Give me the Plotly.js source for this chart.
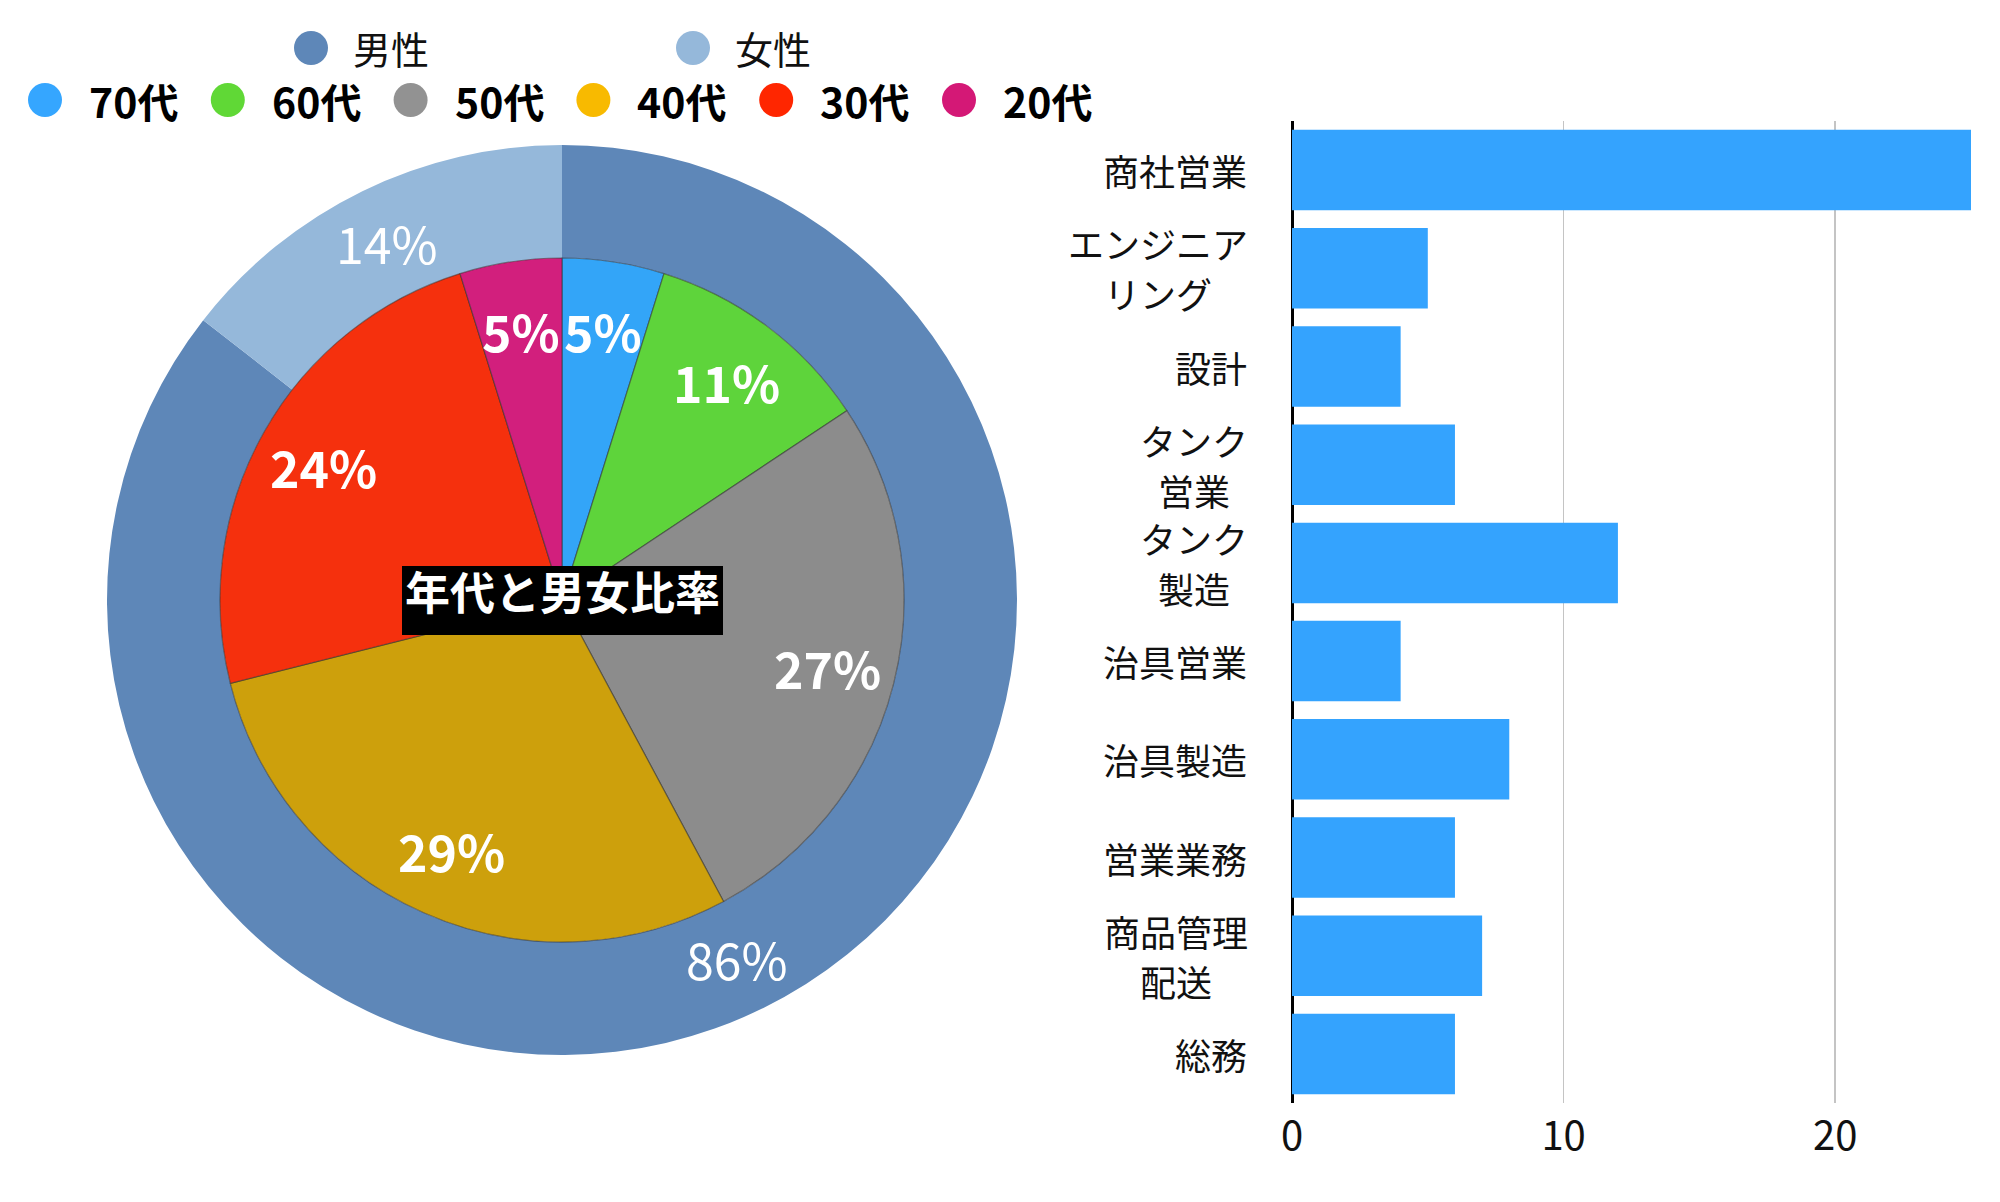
<!DOCTYPE html>
<html><head><meta charset="utf-8">
<script src="https://cdn.plot.ly/plotly-3.0.1.min.js"></script>
<style>html,body{margin:0;padding:0;background:#fff}#chart{width:2000px;height:1202px}</style>
</head><body><div id="chart"></div>
<script>
// ---- data ----
const genderLabels = ['男性', '女性'];
const genderCounts = [71, 12];
const ageLabels = ['70代', '60代', '50代', '40代', '30代', '20代'];
const ageCounts = [4, 9, 22, 24, 20, 4];
const jobLabels = ['商社営業', 'エンジニア<br>リング', '設計', 'タンク<br>営業', 'タンク<br>製造', '治具営業', '治具製造', '営業業務', '商品管理<br>配送', '総務'];
const jobCounts = [25, 5, 4, 6, 12, 4, 8, 6, 7, 6];
const xTickVals = [0, 10, 20];
const chartTitle = '年代と男女比率';

// ---- styles ----
const W = 2000, H = 1202;
const FONT = '"Noto Sans CJK JP", "Noto Sans", sans-serif';
const genderColors = ['#5E87B8', '#95B8DA'];
const ageColors = ['#33A5F8', '#5ED43B', '#8C8C8C', '#CDA00C', '#F5300D', '#D21F7D'];
const ageLegendColors = ['#35A6FF', '#60D836', '#929292', '#F8BA00', '#FF2600', '#D41876'];
const barColor = '#34A3FE';
const px = x => x / W;
const py = y => 1 - y / H;

const cx = 562, cy = 600, rOuter = 455, rInner = 342;

const outerPie = {
  type: 'pie', labels: genderLabels, values: genderCounts,
  hole: rInner / rOuter, sort: false, direction: 'clockwise', rotation: 0,
  domain: {x: [px(cx - rOuter), px(cx + rOuter)], y: [py(cy + rOuter), py(cy - rOuter)]},
  marker: {colors: genderColors, line: {width: 0}},
  textinfo: 'none', showlegend: false, hoverinfo: 'label+percent'
};
const innerPie = {
  type: 'pie', labels: ageLabels, values: ageCounts,
  sort: false, direction: 'clockwise', rotation: 0,
  domain: {x: [px(cx - rInner), px(cx + rInner)], y: [py(cy + rInner), py(cy - rInner)]},
  marker: {colors: ageColors, line: {width: 1.2, color: 'rgba(50,50,50,0.55)'}},
  textinfo: 'none', showlegend: false, hoverinfo: 'label+percent'
};
const bars = {
  type: 'bar', orientation: 'h', x: jobCounts, y: jobLabels,
  marker: {color: barColor, line: {width: 0}},
  xaxis: 'x', yaxis: 'y', showlegend: false, hoverinfo: 'x+y'
};

const annotations = [];
const shapes = [];

// percent labels placed at each slice's mid-angle (clockwise from 12 o'clock)
function sliceLabels(values, rLabel, bold) {
  const total = values.reduce((a, b) => a + b, 0);
  let cum = 0;
  values.forEach(v => {
    const th = 2 * Math.PI * (cum + v / 2) / total;
    cum += v;
    const pct = Math.round(v / total * 100) + '%';
    annotations.push({
      xref: 'paper', yref: 'paper', x: px(cx + rLabel * Math.sin(th)), y: py(cy - rLabel * Math.cos(th)),
      xanchor: 'center', yanchor: 'middle', showarrow: false,
      text: bold ? '<b>' + pct + '</b>' : pct,
      font: {size: 50, color: '#ffffff', family: FONT}
    });
  });
}
sliceLabels(genderCounts, (rInner + rOuter) / 2, false);
sliceLabels(ageCounts, rInner * 0.8, true);

// title: black box with white bold text near its top
shapes.push({type: 'rect', xref: 'paper', yref: 'paper', x0: px(402), x1: px(723), y0: py(635), y1: py(566),
  fillcolor: '#000000', line: {width: 0}, layer: 'above'});
annotations.push({
  xref: 'paper', yref: 'paper', x: px(cx), y: py(590), xanchor: 'center', yanchor: 'middle',
  text: '<b>' + chartTitle + '</b>', showarrow: false,
  font: {size: 45, color: '#ffffff', family: FONT}
});

// legend rows (custom, circle markers)
const gLegX = [311, 693];
genderLabels.forEach((lab, i) => {
  shapes.push({type: 'circle', xref: 'paper', yref: 'paper', x0: px(gLegX[i] - 17), x1: px(gLegX[i] + 17),
    y0: py(48 + 17), y1: py(48 - 17), fillcolor: genderColors[i], line: {width: 0}});
  annotations.push({xref: 'paper', yref: 'paper', x: px(gLegX[i] + 40), y: py(48), xanchor: 'left', yanchor: 'middle',
    text: lab, showarrow: false, font: {size: 38, color: '#111', family: FONT}});
});
ageLabels.forEach((lab, i) => {
  const x = 45 + i * 182.8;
  shapes.push({type: 'circle', xref: 'paper', yref: 'paper', x0: px(x - 17), x1: px(x + 17),
    y0: py(100 + 17), y1: py(100 - 17), fillcolor: ageLegendColors[i], line: {width: 0}});
  annotations.push({xref: 'paper', yref: 'paper', x: px(x + 42), y: py(100), xanchor: 'left', yanchor: 'middle',
    text: '<b>' + lab + '</b>', showarrow: false, font: {size: 41, color: '#000', family: FONT}});
});

// bar category labels: block right-aligned, lines centered within block
const labFS = 36, labRight = 1248, labLineGap = 50;
jobLabels.forEach(lab => {
  const lines = lab.split('<br>');
  const maxChars = Math.max(...lines.map(s => s.length));
  const n = lines.length;
  lines.forEach((line, i) => {
    const single = n === 1;
    annotations.push({
      xref: 'paper', yref: 'y', y: lab,
      x: single ? px(labRight) : px(labRight - maxChars * labFS / 2),
      xanchor: single ? 'right' : 'center', yanchor: 'middle',
      yshift: ((n - 1) / 2 - i) * labLineGap, borderpad: 0,
      text: line, showarrow: false, font: {size: labFS, color: '#111', family: FONT}
    });
  });
});

const layout = {
  width: W, height: H, margin: {l: 0, r: 0, t: 0, b: 0},
  paper_bgcolor: '#ffffff', plot_bgcolor: '#ffffff',
  font: {family: FONT},
  bargap: 0.18,
  xaxis: {domain: [px(1292), px(1971)], range: [0, 25], tickvals: xTickVals, ticktext: xTickVals.map(String),
    showgrid: true, gridcolor: '#c4c4c4', gridwidth: 1.5,
    zeroline: true, zerolinecolor: '#000', zerolinewidth: 3, showline: false, ticks: '',
    tickfont: {size: 40, color: '#111', family: FONT}, ticklabelstandoff: 6, fixedrange: true},
  yaxis: {domain: [py(1103), py(121)], type: 'category', autorange: 'reversed',
    showticklabels: false, showgrid: false, zeroline: false, showline: false, ticks: '', fixedrange: true},
  annotations: annotations,
  shapes: shapes
};

Plotly.newPlot('chart', [outerPie, innerPie, bars], layout, {displayModeBar: false, staticPlot: true});
</script>
</body></html>
